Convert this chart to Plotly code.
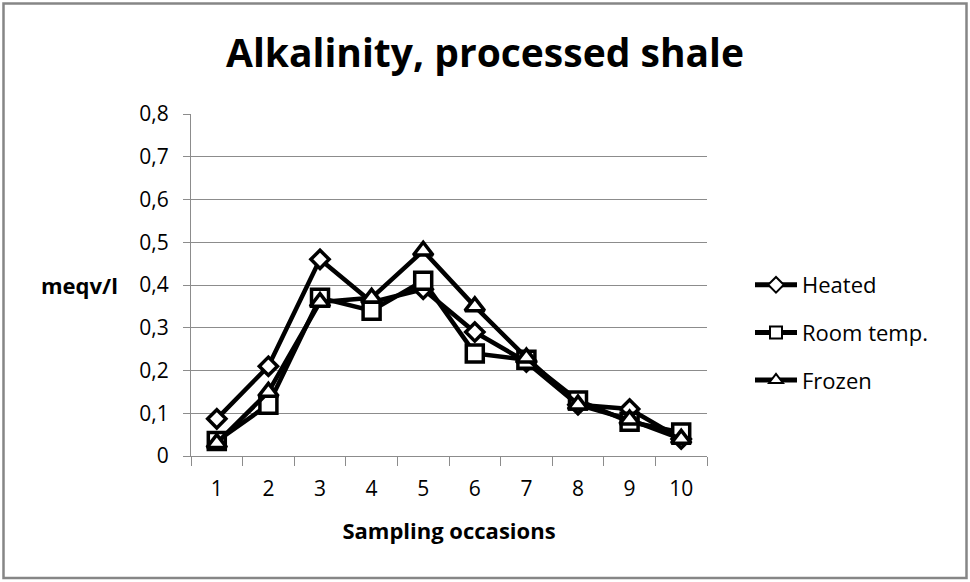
import plotly.graph_objects as go

occasions = [1, 2, 3, 4, 5, 6, 7, 8, 9, 10]
tick_labels = ["1", "2", "3", "4", "5", "6", "7", "8", "9", "10"]
heated = [0.087, 0.21, 0.46, 0.36, 0.39, 0.29, 0.22, 0.12, 0.11, 0.04]
room_temp = [0.035, 0.12, 0.37, 0.34, 0.41, 0.24, 0.225, 0.13, 0.08, 0.055]
frozen = [0.03, 0.15, 0.36, 0.37, 0.48, 0.35, 0.23, 0.12, 0.085, 0.04]
y_ticks = [0, 0.1, 0.2, 0.3, 0.4, 0.5, 0.6, 0.7, 0.8]
y_tick_labels = ["0", "0,1", "0,2", "0,3", "0,4", "0,5", "0,6", "0,7", "0,8"]

FONT = "Open Sans"
GRAY = "#8c8c8c"
fig = go.Figure()
for name, vals, sym, size in [("Heated", heated, "diamond", 14),
                              ("Room temp.", room_temp, "square", 17),
                              ("Frozen", frozen, "triangle-up", 17)]:
    fig.add_trace(go.Scatter(
        x=occasions, y=vals, name=name, legendgroup=name, mode="lines+markers",
        line=dict(color="black", width=4.5),
        marker=dict(symbol=sym, size=size, color="white", line=dict(color="black", width=3.5)),
    ))

L, R, T, B = 191, 263, 114, 126
W, H = 970, 582
pw, ph = W - L - R, H - T - B

def px(x):
    return (x - L) / pw

def py(y):
    return (H - B - y) / ph

fig.update_layout(
    width=W, height=H,
    margin=dict(l=L, r=R, t=T, b=B),
    paper_bgcolor="white", plot_bgcolor="white",
    font=dict(family=FONT, color="black", size=21),
    title=dict(text="<b>Alkalinity, processed shale</b>", x=0.5, xanchor="center",
               y=1 - 53 / H, yanchor="middle", font=dict(size=39, family=FONT)),
    xaxis=dict(range=[0.5, 10.5], tickvals=occasions, ticktext=tick_labels, ticks="",
               showgrid=False, showline=True, linecolor=GRAY, linewidth=1,
               zeroline=False, tickfont=dict(size=21), ticklabelstandoff=14,
               minor=dict(tick0=0.5, dtick=1, ticks="outside", ticklen=9, tickcolor=GRAY, showgrid=False),
               title=dict(text="<b>Sampling occasions</b>", font=dict(size=22), standoff=22)),
    yaxis=dict(range=[0, 0.8], tickvals=y_ticks, ticktext=y_tick_labels, ticks="outside",
               ticklen=7, tickcolor=GRAY, showgrid=True, gridcolor=GRAY, gridwidth=1,
               showline=True, linecolor=GRAY, zeroline=False, tickfont=dict(size=21),
               ticklabelstandoff=10),
    legend=dict(x=px(750), y=py(264), xanchor="left", yanchor="top",
                font=dict(size=22), tracegroupgap=16, itemwidth=42, itemsizing="constant",
                bgcolor="rgba(0,0,0,0)"),
    showlegend=True,
)
fig.add_annotation(text="<b>meqv/l</b>", x=px(120), y=py(285), xref="paper", yref="paper",
                   xanchor="right", yanchor="middle", showarrow=False, font=dict(size=22))
fig.add_shape(type="rect", xref="paper", yref="paper",
              x0=px(3.5), x1=px(966.5), y0=py(578), y1=py(3.5),
              line=dict(color="#868686", width=2.5), fillcolor="rgba(0,0,0,0)", layer="below")
fig.write_html("out.html")
